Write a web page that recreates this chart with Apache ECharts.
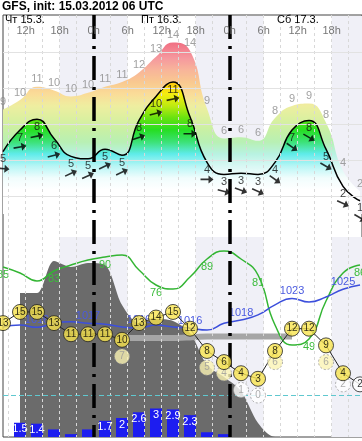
<!DOCTYPE html>
<html><head><meta charset="utf-8">
<script src="https://cdn.jsdelivr.net/npm/echarts@6.0.0/dist/echarts.min.js"></script>
<style>html,body{margin:0;padding:0;background:#fff;}#c{width:362px;height:441px;}</style>
</head><body><div id="c"></div>
<script>
// time axis: hours since Thu 15.3. 00h (local), 3-hourly steps
const times = [8,11,14,17,20,23,26,29,32,35,38,41,44,47,50,53,56,59,62,65,68,71];
const gust = [8.7,9.5,10.6,10.3,9.8,10.1,10.6,11,11.8,13.1,14.3,13.6,8.8,6.3,6.4,6.1,8,9,9.2,7.6,3.6,1.9];
const wind = [5.2,7,7.9,6.3,4.8,4.6,5.4,4.9,7.8,9.8,11,8.1,4.3,3.3,3.4,3.3,4.3,7,7.8,5.4,2.3,1.1];
const windDir = [-5,10,12,15,25,25,25,25,20,15,12,0,0,-15,-20,-25,-35,-35,-30,-30,-25,-30];
const humidity = [85,82,78,83,86,88.5,90,91,83.5,76,74,80,89,93,89,81,56,46,49,68,82,86];
const pressure = [1016.5,1016.9,1016.4,1017.3,1017.6,1017.3,1017.1,1016.5,1016.3,1016.9,1016.5,1016.2,1015.8,1017.3,1018.0,1019.1,1021.3,1022.7,1021.9,1023.0,1024.7,1025.6];
const temperature = [13,15,15,13,11,11,11,10,13,14,15,12,8,6,4,3,8,12,12,9,4,2];
const feelsLike = [null,null,null,null,null,null,null,7,null,null,null,null,5,4,1,0,6,null,null,6,2,null];
const precip = [null,1.5,1.4,0.8,0.3,0.8,1.7,2,2.6,3,2.9,2.3,0.5,0.3,null,null,null,null,null,null,null,null];
const cloud = [null,72,72,88,85,87,86,66,57,59,58,52,36,30,23,7,0,0,0,0,0,0];
const lowBand = [null,null,null,null,null,null,null,49.5,49.5,49.5,49.5,49.8,50.2,50.2,50.2,50.2,50.2,50.2,null,null,null,null];
const hourTicks = [12,18,24,30,36,42,48,54,60,66];
const hourLabels = ['12h','18h','0h','6h','12h','18h','0h','6h','12h','18h'];
const dayTicks = [8,32,56];
const dayLabels = ['Чт 15.3.','Пт 16.3.','Сб 17.3.'];
const gridHours = [9,12,15,18,21,27,30,33,36,39,42,45,51,54,57,60,63,66,69];
const nightRanges = [[18,30],[42,54],[66,71.35]];
const dayLines = [24,48];
const topGridVals = [1.5,4.5,7.5,10.5,13.5];
const windColors = ['#ffffff','#ffffff','#ffffff','#f0fdfd','#b4f5f5','#55ebeb','#2ee070','#14dc14','#5ae000','#b8ea00','#f5ef00','#ffc600','#ff9a30','#ff6a5a','#f5406a','#e82060'];
const gustColors = ['#ffffff','#ffffff','#ffffff','#f6fdfc','#d8f8f4','#b8f2e2','#b8f0b4','#c8f0a4','#dcf0a0','#eeeea0','#fadc98','#f9c890','#f8b49a','#f5989e','#f27888','#ee5a78'];

const FONT = '"Liberation Sans", Arial, sans-serif';
const pair = a => a.map((v,i) => [times[i], v == null ? '-' : v]);
const rnd = p => Math.round(p.value[1]);

const chart = echarts.init(document.getElementById('c'), null, {renderer:'canvas', width:362, height:441});

const XMAX = 71.35;
const xBase = {type:'value', min:8, max:XMAX, axisLine:{show:false}, axisTick:{show:false}, splitLine:{show:false}, axisLabel:{show:false}};
const NIGHT = '#f0f0f7';

const option = {
  animation:false,
  backgroundColor:'#fff',
  textStyle:{fontFamily:FONT},
  title:{text:'GFS, init: 15.03.2012 06 UTC', left:2, top:1, padding:0,
    textStyle:{fontSize:12, fontWeight:'bold', color:'#000', fontFamily:FONT}},
  grid:[
    {left:3, right:0, top:15, bottom:4, show:true, borderColor:'#444', borderWidth:1, backgroundColor:'transparent'},
    {left:3, right:0, top:16, height:216},
    {left:3, right:0, top:237, height:200}
  ],
  xAxis:[
    Object.assign({}, xBase, {gridIndex:0, position:'top', z:30,
      axisLabel:{show:true, inside:true, margin:10, color:'#777', fontSize:11, fontFamily:FONT,
        customValues:hourTicks, formatter:v => hourLabels[hourTicks.indexOf(v)]}}),
    Object.assign({}, xBase, {gridIndex:0, position:'top', offset:0, z:30,
      axisLabel:{show:true, inside:true, margin:-1, color:'#000', fontSize:11, fontFamily:FONT, align:'left', padding:[0,0,0,2],
        customValues:dayTicks, formatter:v => dayLabels[dayTicks.indexOf(v)]}}),
    Object.assign({}, xBase, {gridIndex:1}),
    Object.assign({}, xBase, {gridIndex:2})
  ],
  yAxis:[
    {gridIndex:0, type:'value', min:0, max:1, show:false, inverse:true},
    {gridIndex:1, type:'value', min:-1.5, max:16.5, show:false},
    {gridIndex:2, type:'value', min:0, max:100, show:false},
    {gridIndex:2, type:'value', min:992.57, max:1036.04, show:false},
    {gridIndex:2, type:'value', min:-7.45, max:28.46, show:false},
    {gridIndex:2, type:'value', min:0, max:21.05, show:false}
  ],
  visualMap:[
    {type:'continuous', show:false, dimension:1, seriesIndex:3, min:0, max:15, inRange:{color:gustColors}},
    {type:'continuous', show:false, dimension:1, seriesIndex:4, min:0, max:15, inRange:{color:windColors}}
  ],
  series:[
    // 0 background: 3h grid lines (full height)
    {type:'scatter', xAxisIndex:0, yAxisIndex:0, data:[[8,0]], symbolSize:0, silent:true, z:0,
      markLine:{silent:true, symbol:'none', label:{show:false}, lineStyle:{color:'#d8d8d8', type:[3,3], width:1},
        data:gridHours.map(h => ({xAxis:h}))}},
    // 1 top panel: night shading + horizontal lines
    {type:'scatter', xAxisIndex:2, yAxisIndex:1, data:[[8,-5]], symbolSize:0, silent:true, z:0,
      markArea:{silent:true, itemStyle:{color:NIGHT}, data:nightRanges.map(r => [{xAxis:r[0], yAxis:0},{xAxis:r[1], yAxis:16.5}])},
      markLine:{silent:true, symbol:'none', label:{show:false}, lineStyle:{color:'#e2e2e2', type:'solid', width:1},
        data:topGridVals.map(v => ({yAxis:v}))}},
    // 2 lower panel: night shading
    {type:'scatter', xAxisIndex:3, yAxisIndex:2, data:[[8,-5]], symbolSize:0, silent:true, z:0,
      markArea:{silent:true, itemStyle:{color:NIGHT}, data:nightRanges.map(r => [{xAxis:r[0]},{xAxis:r[1]}])}},
    // 3 gust area
    {type:'line', xAxisIndex:2, yAxisIndex:1, data:pair(gust), smooth:0.5, showSymbol:false, z:1,
      lineStyle:{width:0}, areaStyle:{opacity:1}},
    // 4 wind line + area
    {type:'line', xAxisIndex:2, yAxisIndex:1, data:pair(wind), smooth:0.5, showSymbol:false, z:2,
      lineStyle:{width:1.5, color:'#000'}, areaStyle:{opacity:0.9}},
    // 5 wind arrows
    {type:'scatter', xAxisIndex:2, yAxisIndex:1, z:5, silent:true,
      data:wind.map((v,i) => ({value:[times[i], v], symbolRotate:windDir[i]})),
      symbol:'path://M0,3.2L8,3.2L8,0L13,4L8,8L8,4.8L0,4.8Z', symbolSize:[13,8], symbolOffset:[0,17],
      itemStyle:{color:'#000'}},
    // 6 gust labels
    {type:'scatter', xAxisIndex:2, yAxisIndex:1, z:6, silent:true, data:pair(gust), symbolSize:0,
      label:{show:true, position:'top', distance:2, color:'#8a8a8a', fontSize:11, fontFamily:FONT, formatter:rnd}},
    // 7 wind labels
    {type:'scatter', xAxisIndex:2, yAxisIndex:1, z:6, silent:true, data:pair(wind), symbolSize:0,
      label:{show:true, position:'bottom', distance:2, color:'#111', fontSize:11, fontFamily:FONT, formatter:rnd}},
    // 8 cloud area
    {type:'line', xAxisIndex:3, yAxisIndex:2, data:pair(cloud), smooth:0.3, showSymbol:false, z:1,
      lineStyle:{width:0}, areaStyle:{color:'#6b6b6b', opacity:1}},
    // 9 low cloud band
    {type:'line', xAxisIndex:3, yAxisIndex:2, data:pair(lowBand), smooth:0.3, showSymbol:false, z:2,
      lineStyle:{width:6, color:'#a6a6a6'}},
    // 10 precipitation bars
    {type:'bar', xAxisIndex:3, yAxisIndex:5, data:pair(precip), barWidth:12, z:3,
      itemStyle:{color:'#1d1df0'},
      label:{show:true, position:'insideTop', distance:1, color:'#fff', fontSize:11, fontFamily:FONT,
        formatter:p => p.value[1] >= 1 ? String(p.value[1]) : ''}},
    // 11 humidity
    {type:'line', xAxisIndex:3, yAxisIndex:2, data:pair(humidity), smooth:0.5, z:4,
      showSymbol:true, symbol:'circle', symbolSize:0, itemStyle:{color:'#33b533'},
      lineStyle:{width:1.5, color:'#33b533'},
      label:{show:true, position:'bottom', distance:2, color:'#3cbc3c', fontSize:11, fontFamily:FONT,
        formatter:p => p.dataIndex % 3 === 0 ? Math.round(p.value[1]) : ''}},
    // 12 pressure
    {type:'line', xAxisIndex:3, yAxisIndex:3, data:pair(pressure), smooth:0.5, z:4,
      showSymbol:true, symbol:'circle', symbolSize:0, itemStyle:{color:'#3c4fdc'},
      lineStyle:{width:1.5, color:'#3c4fdc'},
      label:{show:true, position:'top', distance:2, color:'#4a5ae0', fontSize:11, fontFamily:FONT,
        formatter:p => p.dataIndex % 3 === 2 ? Math.round(p.value[1]) : ''}},
    // 13 temperature connecting line + 0°C line
    {type:'line', xAxisIndex:3, yAxisIndex:4, data:pair(temperature), showSymbol:false, z:5,
      lineStyle:{width:1, color:'#222'},
      markLine:{silent:true, symbol:'none', label:{show:false}, lineStyle:{color:'#5fc8cf', type:[5,3], width:1},
        data:[{yAxis:0}]}},
    // 14 feels-like circles
    {type:'scatter', xAxisIndex:3, yAxisIndex:4, data:pair(feelsLike), z:6, symbol:'circle', symbolSize:15,
      itemStyle:{color:p => p.value[1] >= 2.5 ? '#fbf4b4' : '#ffffff', borderColor:'#999', borderWidth:1, borderType:[2,2]},
      label:{show:true, position:'inside', color:'#999', fontSize:10, fontFamily:FONT, formatter:rnd}},
    // 15 temperature circles
    {type:'scatter', xAxisIndex:3, yAxisIndex:4, data:pair(temperature), z:7, symbol:'circle', symbolSize:15,
      itemStyle:{color:p => p.value[1] >= 2.5 ? '#f7e34d' : '#ffffff', borderColor:'#222', borderWidth:1},
      label:{show:true, position:'inside', color:'#000', fontSize:10, fontFamily:FONT, formatter:rnd}},
    // 16 day boundary dash-dot lines
    {type:'scatter', xAxisIndex:0, yAxisIndex:0, data:[[8,0]], symbolSize:0, silent:true, z:20,
      markLine:{silent:true, symbol:'none', label:{show:false},
        lineStyle:{color:'#000', type:[24,7,3,7], width:3.5},
        data:dayLines.map(h => ({xAxis:h}))}}
  ]
};
chart.setOption(option);
</script></body></html>
